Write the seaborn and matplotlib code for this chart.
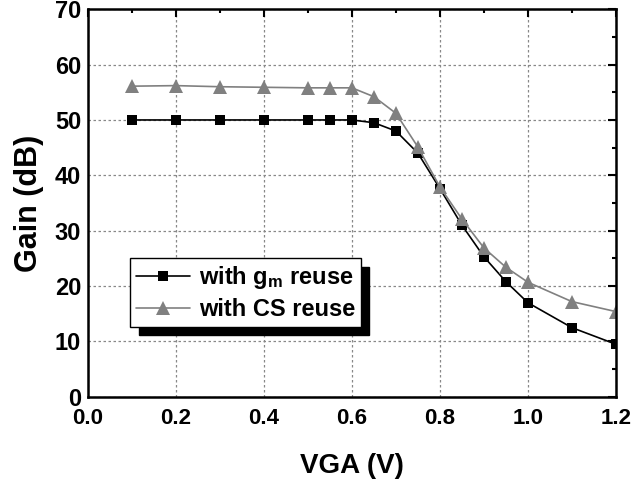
import matplotlib
matplotlib.use("Agg")
import matplotlib.pyplot as plt
from matplotlib.ticker import MultipleLocator
import seaborn as sns
import pandas as pd

sns.set_theme(style="white")
plt.rcParams["font.family"] = ["Liberation Sans", "DejaVu Sans"]
plt.rcParams["font.weight"] = "bold"
plt.rcParams["text.color"] = "black"
plt.rcParams["axes.labelcolor"] = "black"
plt.rcParams["xtick.color"] = "black"
plt.rcParams["ytick.color"] = "black"
plt.rcParams["mathtext.fontset"] = "custom"
plt.rcParams["mathtext.rm"] = "Liberation Sans:bold"
plt.rcParams["mathtext.it"] = "Liberation Sans:bold"
plt.rcParams["mathtext.bf"] = "Liberation Sans:bold"

vga = [0.1, 0.2, 0.3, 0.4, 0.5, 0.55, 0.6, 0.65, 0.7, 0.75, 0.8, 0.85, 0.9, 0.95, 1.0, 1.1, 1.2]
gain_gm = [50.0, 50.0, 50.0, 50.0, 50.0, 50.0, 50.0, 49.5, 48.0, 44.0, 37.6, 31.0, 25.3, 20.8, 17.0, 12.5, 9.5]
gain_cs = [56.1, 56.2, 56.0, 55.9, 55.8, 55.8, 55.8, 54.2, 51.2, 45.1, 37.9, 32.1, 26.9, 23.4, 20.7, 17.2, 15.4]
labels = [r"with g$_\mathrm{m}$ reuse", "with CS reuse"]

df = pd.concat([
    pd.DataFrame({"VGA": vga, "Gain": gain_gm, "series": labels[0]}),
    pd.DataFrame({"VGA": vga, "Gain": gain_cs, "series": labels[1]}),
])

fig = plt.figure(figsize=(6.33, 4.84), dpi=100)
ax = fig.add_axes([0.139, 0.18, 0.834, 0.801])

ax.grid(True, which="major", color="#888888", linestyle=(0, (2, 2)), linewidth=0.9)
ax.set_axisbelow(True)

sns.lineplot(data=df, x="VGA", y="Gain", hue="series", style="series",
             palette={labels[0]: "black", labels[1]: "#808080"},
             markers={labels[0]: "s", labels[1]: "^"},
             dashes=False, linewidth=1.2, markeredgewidth=0,
             ax=ax, sort=False)

marker_sizes = [7, 10.5]
for line, ms in zip(ax.lines, marker_sizes):
    line.set_markersize(ms)

ax.set_xlim(0.0, 1.2)
ax.set_ylim(0, 70)
ax.xaxis.set_major_locator(MultipleLocator(0.2))
ax.xaxis.set_minor_locator(MultipleLocator(0.1))
ax.yaxis.set_major_locator(MultipleLocator(10))
ax.yaxis.set_minor_locator(MultipleLocator(5))
ax.set_xticklabels([f"{v:.1f}" for v in ax.get_xticks()])
ax.tick_params(which="both", direction="in", top=True, right=True, width=1.5)
ax.tick_params(which="major", length=6)
ax.tick_params(which="minor", length=3)
ax.tick_params(axis="x", which="major", labelsize=16, pad=8)
ax.tick_params(axis="y", which="major", labelsize=17, pad=5)
for t in ax.get_xticklabels() + ax.get_yticklabels():
    t.set_fontweight("bold")
for s in ax.spines.values():
    s.set_linewidth(1.8)
    s.set_color("black")

ax.set_xlabel("VGA (V)", fontsize=20, fontweight="bold", labelpad=17)
ax.set_ylabel("Gain (dB)", fontsize=22, fontweight="bold", labelpad=8)

leg = ax.legend(loc="lower left", bbox_to_anchor=(0.08, 0.18), fontsize=17,
                frameon=True, fancybox=False,
                shadow={"color": "black", "alpha": 1, "ox": 6, "oy": -6},
                handlelength=2.3, borderpad=0.25, labelspacing=0.3,
                handletextpad=0.35, borderaxespad=0)
leg.get_frame().set_edgecolor("black")
leg.get_frame().set_linewidth(1.0)
for h, ms in zip(leg.legend_handles, marker_sizes):
    h.set_markersize(ms)
for t in leg.get_texts():
    t.set_fontweight("bold")

fig.savefig("out.png", dpi=100)
